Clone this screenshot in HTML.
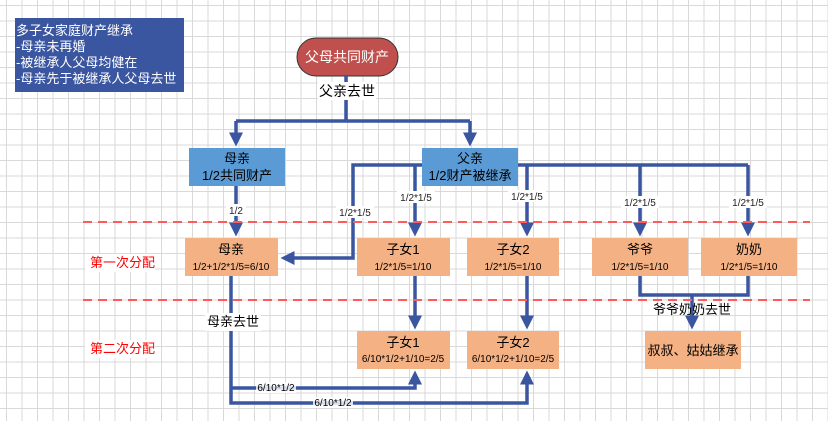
<!DOCTYPE html>
<html><head><meta charset="utf-8"><style>
html,body{margin:0;padding:0}
body{width:828px;height:421px;overflow:hidden;background:#fff;
background-image:linear-gradient(#d9d9d9 1px,transparent 1px),linear-gradient(90deg,#d9d9d9 1px,transparent 1px);
background-size:15.5px 15.5px;background-position:6px 5px;}
svg{position:absolute;left:0;top:0}
text{font-family:"Liberation Sans","Noto Sans CJK SC",sans-serif}
</style></head><body>
<svg width="828" height="421" viewBox="0 0 828 421">
<defs><marker id="a" markerWidth="4" markerHeight="4" refX="3" refY="2" orient="auto" markerUnits="strokeWidth"><path d="M0,0 L4,2 L0,4 Z" fill="#3a56a0"/></marker></defs>
<rect x="15" y="18" width="169" height="74" fill="#3a56a0"/>
<g fill="#fff" font-size="13"><text x="16" y="35">多子女家庭财产继承</text><text x="16" y="51">-母亲未再婚</text><text x="16" y="67">-被继承人父母均健在</text><text x="16" y="83">-母亲先于被继承人父母去世</text></g>
<rect x="297" y="38" width="101" height="38" rx="19" fill="#c0504d" stroke="#333" stroke-width="1"/>
<text x="347" y="62" fill="#fff" font-size="14" text-anchor="middle">父母共同财产</text>
<g stroke="#3a56a0" stroke-width="3.5" fill="none">
<path d="M346,76 V121 M236,121 H470"/>
<path d="M236,121 V143" marker-end="url(#a)"/><path d="M470,121 V143" marker-end="url(#a)"/>
<path d="M422,165 H353 V258 H284" marker-end="url(#a)"/>
<path d="M518,165 H748"/>
<path d="M415,165 V233" marker-end="url(#a)"/><path d="M527,165 V233" marker-end="url(#a)"/>
<path d="M640,165 V233" marker-end="url(#a)"/><path d="M748,165 V233" marker-end="url(#a)"/>
<path d="M236,186 V233" marker-end="url(#a)"/>
<path d="M415,276 V326" marker-end="url(#a)"/><path d="M527,276 V326" marker-end="url(#a)"/>
<path d="M640,276 V295 H748 V276"/><path d="M692,295 V326" marker-end="url(#a)"/>
<path d="M231,276 V403 H527 V374" marker-end="url(#a)"/>
<path d="M231,388 H415 V374" marker-end="url(#a)"/>
</g>
<rect x="318" y="82" width="58" height="18" fill="#fff"/>
<text x="347" y="96" font-size="14" text-anchor="middle">父亲去世</text>
<rect x="189" y="148" width="96" height="38" fill="#5b9bd5"/>
<text x="237" y="163" font-size="13" text-anchor="middle">母亲</text><text x="237" y="180" font-size="13" text-anchor="middle">1/2共同财产</text>
<rect x="422" y="148" width="96" height="38" fill="#5b9bd5"/>
<text x="470" y="163" font-size="13" text-anchor="middle">父亲</text><text x="470" y="180" font-size="13" text-anchor="middle">1/2财产被继承</text>
<g font-size="10" text-anchor="middle" fill="#222">
<rect x="226" y="204" width="20" height="12" fill="#fff"/><text x="236" y="214">1/2</text>
<rect x="336" y="206" width="38" height="12" fill="#fff"/><text x="355" y="216">1/2*1/5</text>
<rect x="397" y="191" width="38" height="12" fill="#fff"/><text x="416" y="201">1/2*1/5</text>
<rect x="508" y="190" width="38" height="12" fill="#fff"/><text x="527" y="200">1/2*1/5</text>
<rect x="621" y="196" width="38" height="12" fill="#fff"/><text x="640" y="206">1/2*1/5</text>
<rect x="729" y="196" width="38" height="12" fill="#fff"/><text x="748" y="206">1/2*1/5</text>
</g>
<g stroke="#ff5b5b" stroke-width="2" stroke-dasharray="9,6"><path d="M83,222 H810"/><path d="M83,300 H810"/></g>
<g fill="#f4b183">
<rect x="185" y="238" width="93" height="38"/><rect x="357" y="238" width="93" height="38"/><rect x="467" y="238" width="92" height="38"/><rect x="592" y="238" width="96" height="38"/><rect x="701" y="238" width="96" height="38"/>
<rect x="357" y="331" width="93" height="38"/><rect x="467" y="331" width="92" height="38"/><rect x="645" y="331" width="96" height="38"/>
</g>
<g text-anchor="middle">
<g font-size="13"><text x="231" y="254">母亲</text><text x="403" y="254">子女1</text><text x="513" y="254">子女2</text><text x="640" y="254">爷爷</text><text x="749" y="254">奶奶</text><text x="403" y="347">子女1</text><text x="513" y="347">子女2</text><text x="693" y="355">叔叔、姑姑继承</text></g>
<g font-size="10"><text x="231" y="270">1/2+1/2*1/5=6/10</text><text x="403" y="270">1/2*1/5=1/10</text><text x="513" y="270">1/2*1/5=1/10</text><text x="640" y="270">1/2*1/5=1/10</text><text x="749" y="270">1/2*1/5=1/10</text><text x="403" y="362">6/10*1/2+1/10=2/5</text><text x="513" y="362">6/10*1/2+1/10=2/5</text></g>
</g>
<rect x="85" y="254" width="70" height="18" fill="#fff"/><text x="90" y="267" font-size="13" fill="#f00">第一次分配</text>
<rect x="85" y="340" width="70" height="18" fill="#fff"/><text x="90" y="353" font-size="13" fill="#f00">第二次分配</text>
<rect x="205" y="313" width="56" height="18" fill="#fff"/><text x="233" y="326" font-size="13" text-anchor="middle">母亲去世</text>
<text x="692" y="314" font-size="13" text-anchor="middle">爷爷奶奶去世</text>
<g font-size="10" text-anchor="middle"><rect x="256" y="382" width="40" height="11" fill="#fff" opacity=".8"/><text x="276" y="391">6/10*1/2</text>
<rect x="313" y="397" width="40" height="11" fill="#fff" opacity=".8"/><text x="333" y="406">6/10*1/2</text></g>
</svg>
</body></html>
